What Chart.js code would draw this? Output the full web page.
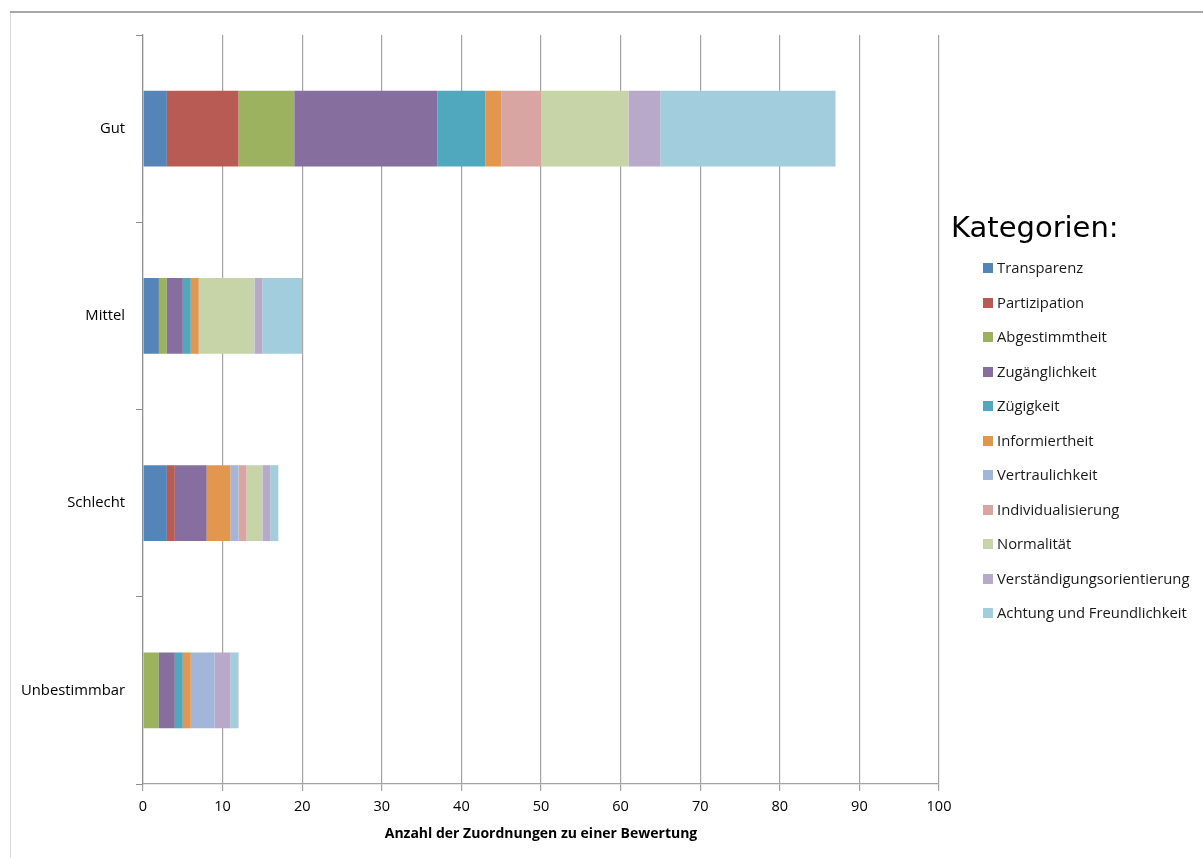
<!DOCTYPE html>
<html lang="de">
<head>
<meta charset="utf-8">
<title>Kategorien nach Bewertung</title>
<script src="https://cdn.jsdelivr.net/npm/chart.js@4.4.1/dist/chart.umd.min.js"></script>
<style>
  html, body { margin: 0; padding: 0; background: #ffffff; }
  #wrap { position: relative; width: 1203px; height: 858px; }
  canvas { display: block; }
</style>
</head>
<body>
<div id="wrap"><canvas id="chart" width="1203" height="858"></canvas></div>
<script>
// Bewertungsstufen (y-Achse)
const bewertungen = ['Gut', 'Mittel', 'Schlecht', 'Unbestimmbar'];

// Anzahl der Zuordnungen je Kategorie, in der Reihenfolge der Bewertungen
const transparenz          = [3, 2, 3, 0];
const partizipation        = [9, 0, 1, 0];
const abgestimmtheit       = [7, 1, 0, 2];
const zugaenglichkeit      = [18, 2, 4, 2];
const zuegigkeit           = [6, 1, 0, 1];
const informiertheit       = [2, 1, 3, 1];
const vertraulichkeit      = [0, 0, 1, 3];
const individualisierung   = [5, 0, 1, 0];
const normalitaet          = [11, 7, 2, 0];
const verstaendigung       = [4, 1, 1, 2];
const achtung              = [22, 5, 1, 1];

// Achsenbeschriftung der x-Achse
const xTicks = [0, 10, 20, 30, 40, 50, 60, 70, 80, 90, 100];

const kategorien = [
  { label: 'Transparenz',                 data: transparenz,        color: '#5584b8' },
  { label: 'Partizipation',               data: partizipation,      color: '#b95b55' },
  { label: 'Abgestimmtheit',              data: abgestimmtheit,     color: '#9cb25f' },
  { label: 'Zugänglichkeit',              data: zugaenglichkeit,    color: '#866e9e' },
  { label: 'Zügigkeit',                   data: zuegigkeit,         color: '#50a8bf' },
  { label: 'Informiertheit',              data: informiertheit,     color: '#e3964d' },
  { label: 'Vertraulichkeit',             data: vertraulichkeit,    color: '#a2b6d9' },
  { label: 'Individualisierung',          data: individualisierung, color: '#d9a5a3' },
  { label: 'Normalität',                  data: normalitaet,        color: '#c6d4a8' },
  { label: 'Verständigungsorientierung',  data: verstaendigung,     color: '#b8a9c9' },
  { label: 'Achtung und Freundlichkeit',  data: achtung,            color: '#a1cddc' }
];

const FONT = "'Open Sans', 'Liberation Sans', sans-serif";

// Rahmenlinien oben und links
const framePlugin = {
  id: 'frame',
  beforeDraw(chart) {
    const ctx = chart.ctx;
    ctx.save();
    ctx.strokeStyle = '#dadada';
    ctx.lineWidth = 1;
    ctx.beginPath();
    ctx.moveTo(10.5, 12);
    ctx.lineTo(10.5, chart.height);
    ctx.stroke();
    ctx.strokeStyle = '#a8a8a8';
    ctx.lineWidth = 2;
    ctx.beginPath();
    ctx.moveTo(10, 12);
    ctx.lineTo(chart.width, 12);
    ctx.stroke();
    ctx.restore();
  }
};

// Legende rechts neben dem Diagramm
const legendPlugin = {
  id: 'sideLegend',
  afterDraw(chart) {
    const ctx = chart.ctx;
    ctx.save();
    ctx.fillStyle = '#000000';
    ctx.textBaseline = 'alphabetic';
    ctx.textAlign = 'left';
    ctx.font = "29px 'DejaVu Sans', sans-serif";
    ctx.fillText('Kategorien:', 951, 237);
    ctx.font = '14.8px ' + FONT;
    ctx.textBaseline = 'middle';
    chart.data.datasets.forEach((ds, i) => {
      const cy = 268 + i * 34.5;
      ctx.fillStyle = ds.backgroundColor;
      ctx.fillRect(983, Math.round(cy - 5), 10, 10);
      ctx.fillStyle = '#1a1a1a';
      ctx.fillText(ds.label, 997, cy + 1);
    });
    ctx.restore();
  }
};

new Chart(document.getElementById('chart'), {
  type: 'bar',
  data: {
    labels: bewertungen,
    datasets: kategorien.map(k => ({
      label: k.label,
      data: k.data,
      backgroundColor: k.color,
      borderWidth: 0,
      categoryPercentage: 1,
      barPercentage: 0.405
    }))
  },
  options: {
    indexAxis: 'y',
    responsive: false,
    animation: false,
    layout: { padding: { left: 0, top: 35, right: 264, bottom: 0 } },
    plugins: {
      legend: { display: false },
      tooltip: { enabled: false }
    },
    scales: {
      x: {
        stacked: true,
        min: 0,
        max: 100,
        afterBuildTicks(scale) { scale.ticks = xTicks.map(v => ({ value: v })); },
        afterFit(scale) { scale.height = 74; },
        grid: {
          color: '#a3a3a3',
          lineWidth: 1.2,
          tickLength: 7,
          drawTicks: true
        },
        border: { color: '#a3a3a3', width: 1.2 },
        ticks: {
          color: '#000000',
          font: { family: FONT, size: 14.5 },
          padding: 7,
          maxRotation: 0
        },
        title: {
          display: true,
          text: 'Anzahl der Zuordnungen zu einer Bewertung',
          color: '#000000',
          font: { family: FONT, size: 14, weight: 'bold' },
          padding: { top: 0, bottom: 16 }
        }
      },
      y: {
        stacked: true,
        afterFit(scale) { scale.width = 143; },
        grid: {
          offset: true,
          drawOnChartArea: false,
          drawTicks: true,
          tickLength: 7,
          color: '#8f8f8f'
        },
        border: { color: '#8f8f8f', width: 1.2 },
        ticks: {
          color: '#000000',
          font: { family: FONT, size: 14.8 },
          padding: 11
        }
      }
    }
  },
  plugins: [framePlugin, legendPlugin]
});
</script>
</body>
</html>
